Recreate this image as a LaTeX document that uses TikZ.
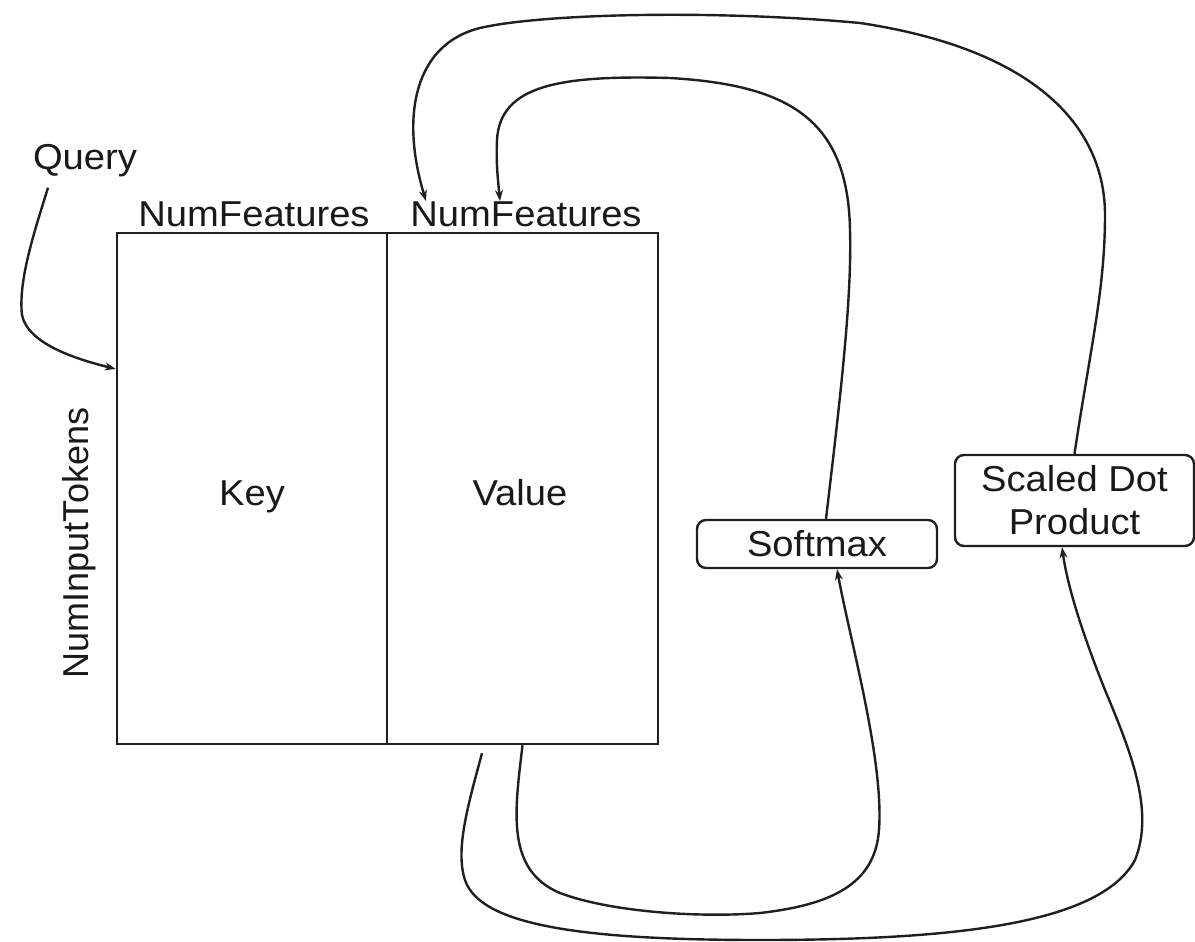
\documentclass[tikz,border=0pt]{standalone}
\usepackage{fontspec}
\setmainfont{Liberation Sans}[FakeStretch=1.06]
\newfontfamily\plainsans{Liberation Sans}
\usetikzlibrary{arrows.meta}

\begin{document}
\begin{tikzpicture}[
  x=1pt, y=-1pt,
  ink/.style={draw=black!88},
  txt/.style={inner sep=0pt, font=\fontsize{36}{43}\selectfont, text=black!90},
  block/.style={ink, line width=2.5pt, inner sep=0pt},
  opbox/.style={ink, line width=2.4pt, rounded corners=9pt, inner sep=0pt,
                align=center, font=\fontsize{36}{43}\selectfont, text=black!90},
  flow/.style={ink, line width=2.4pt, -{Stealth[length=11pt,width=8pt]}}
]
% canvas
\fill[white] (0,0) rectangle (1195,942);
\useasboundingbox (0,0) rectangle (1195,942);

% key / value matrices
\node[block, minimum width=270pt, minimum height=511pt] (key) at (252,488.5) {};
\node[block, minimum width=271pt, minimum height=511pt] (value) at (522.5,488.5) {};
\node[txt, anchor=base] (keylbl) at (252,505) {Key};
\node[txt, anchor=base] (vallbl) at (520,505) {Value};

% axis labels
\node[txt, anchor=base] (numF1) at (254,226) {NumFeatures};
\node[txt, anchor=base] (numF2) at (526,226) {NumFeatures};
\node[txt, anchor=base, rotate=90, font=\plainsans\fontsize{36}{43}\selectfont] (tokens) at (88,543) {NumInputTokens};
\node[txt, anchor=base] (query) at (85,169) {Query};

% operations
\node[opbox, minimum width=240pt, minimum height=48pt] (softmax) at (817,544) {Softmax};
\node[opbox, minimum width=239pt, minimum height=91pt] (sdp) at (1074.5,500.5) {Scaled Dot\\Product};

% query enters the key matrix
\draw[flow] ([xshift=-37pt,yshift=-11pt]query.south)
  .. controls (35,230) and (18,280) .. (22,315)
  .. controls (28,345) and (80,360) .. ([yshift=119.5pt]key.west);

% scaled dot product loops back over the top
\draw[flow] (sdp.north)
  .. controls (1090,350) and (1105,290) .. (1105,215)
  .. controls (1105,130) and (1040,50) .. (860,23)
  .. controls (720,10) and (545,13) .. (480,28)
  .. controls (415,44) and (400,115) .. ([xshift=-100pt]numF2.north);

% softmax loops back over the top
\draw[flow] ([xshift=9pt]softmax.north)
  .. controls (840,400) and (852,300) .. (850,230)
  .. controls (848,120) and (790,85) .. (670,78)
  .. controls (560,75) and (500,85) .. (497,140)
  .. controls (496,165) and (498,180) .. ([xshift=-26pt]numF2.north);

% value feeds softmax from below
\draw[flow] (value.south)
  .. controls (515,810) and (505,870) .. (560,893)
  .. controls (610,912) and (700,918) .. (760,913)
  .. controls (830,905) and (875,885) .. (879,830)
  .. controls (884,760) and (850,640) .. ([xshift=20pt]softmax.south);

% value feeds the scaled dot product from below
\draw[flow] ([xshift=-40.5pt,yshift=-8pt]value.south)
  .. controls (468,805) and (455,850) .. (465,880)
  .. controls (480,925) and (580,940) .. (760,940)
  .. controls (950,940) and (1100,925) .. (1135,860)
  .. controls (1155,810) and (1130,750) .. (1105,690)
  .. controls (1085,640) and (1068,590) .. ([xshift=-12.5pt]sdp.south);
\end{tikzpicture}
\end{document}
